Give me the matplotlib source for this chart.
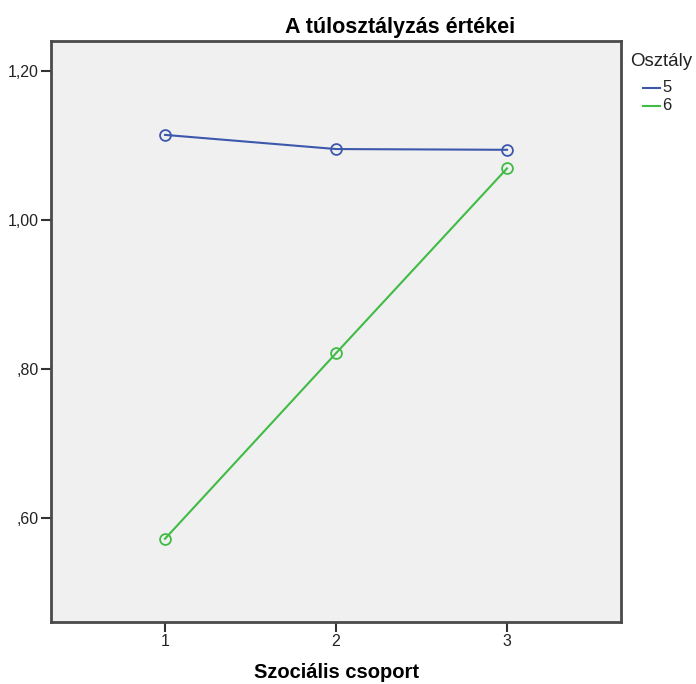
import matplotlib
matplotlib.use("Agg")
import matplotlib.pyplot as plt
from matplotlib.lines import Line2D

plt.rcParams['font.family'] = ['Liberation Sans', 'DejaVu Sans']

groups = [1, 2, 3]
series_names = ["5", "6"]
values_5 = [1.114, 1.095, 1.094]
values_6 = [0.572, 0.821, 1.069]
colors = ["#3d57ac", "#40bb45"]
yticks = [0.60, 0.80, 1.00, 1.20]
ytick_labels = [",60", ",80", "1,00", "1,20"]

W, H = 696, 684
fig = plt.figure(figsize=(W/100, H/100), dpi=100)
ax = fig.add_axes([51/W, 1-621.5/H, (621-51)/W, (621.5-41)/H])
ax.set_facecolor("#f0f0f0")

for vals, c in zip([values_5, values_6], colors):
    ax.plot(groups, vals, color=c, lw=1.5, marker='o', ms=7.8,
            mfc='none', mec=c, mew=1.3)

ax.set_xlim(1/3, 11/3)
ax.set_ylim(0.461, 1.240)
ax.set_xticks(groups)
ax.set_xticklabels([str(g) for g in groups])
ax.set_yticks(yticks)
ax.set_yticklabels(ytick_labels)
for s in ax.spines.values():
    s.set_color("#4a4a4a")
    s.set_linewidth(2)
ax.tick_params(axis='both', length=7, width=1.5, color="#333333",
               labelsize=11.5, labelcolor="#222222", pad=2)

fig.text(400/W, 1-27/H, "A túlosztályzás értékei", fontsize=15.5,
         fontweight='bold', ha='center', va='center')
fig.text(336/W, 1-672/H, "Szociális csoport", fontsize=14.5,
         fontweight='bold', ha='center', va='center')

# legend
fig.text(630/W, 1-61/H, "Osztály", fontsize=13.5, ha='left', va='center',
         color="#222222")
for i, (name, c) in enumerate(zip(series_names, colors)):
    y = 1 - (88 + 18*i)/H
    fig.add_artist(Line2D([643/W, 660/W], [y, y], color=c, lw=1.5,
                          transform=fig.transFigure))
    fig.text(662/W, y, name, fontsize=12, ha='left', va='center',
             color="#222222")

fig.savefig("out.png", dpi=100)
